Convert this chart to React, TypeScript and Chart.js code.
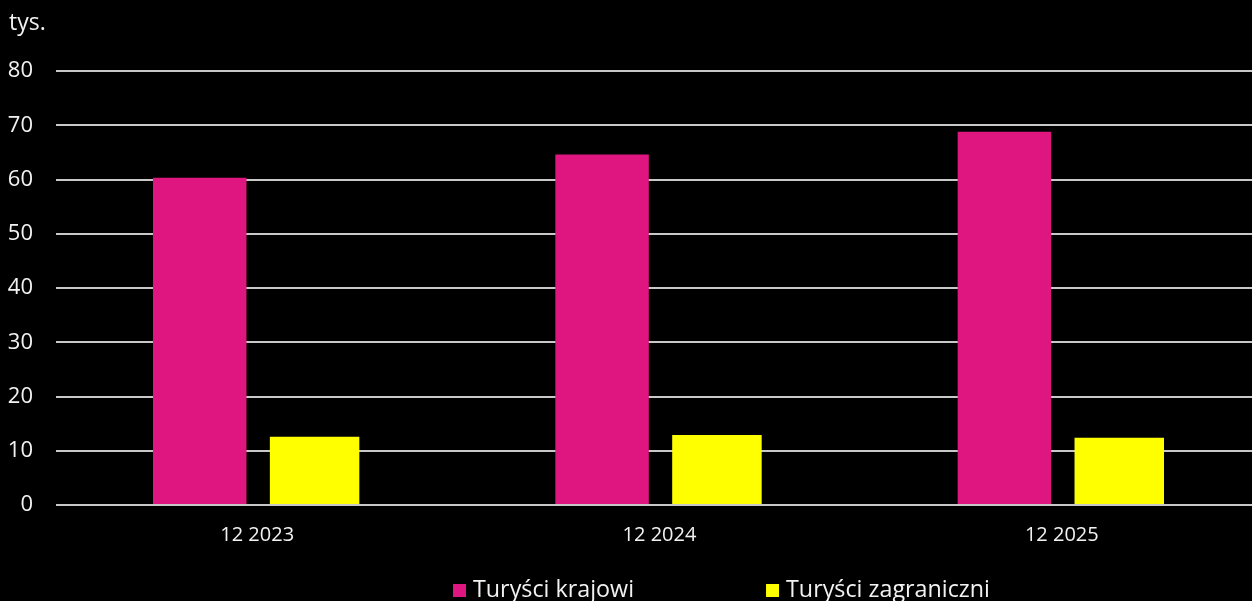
import React, { useEffect, useRef } from "react";
import { Chart, registerables } from "chart.js";

Chart.register(...registerables);

const categories = ["12 2023", "12 2024", "12 2025"];
const domesticValues = [60.3, 64.6, 68.8];
const foreignValues = [12.6, 12.9, 12.4];
const seriesLabels = ["Turyści krajowi", "Turyści zagraniczni"];
const unitLabel = "tys.";

const FONT = "'Open Sans', 'Noto Sans', sans-serif";
const PINK = "#DF1580";
const YELLOW = "#FFFF00";
const TEXT = "#f2f2f2";

const bgPlugin = {
  id: "bg",
  beforeDraw(chart: any) {
    const { ctx, width, height } = chart;
    ctx.save();
    ctx.fillStyle = "#000";
    ctx.fillRect(0, 0, width, height);
    ctx.restore();
  },
};

const extrasPlugin = {
  id: "extras",
  afterDraw(chart: any) {
    const { ctx } = chart;
    ctx.save();
    // unit label
    ctx.fillStyle = TEXT;
    ctx.font = `23px ${FONT}`;
    ctx.textBaseline = "middle";
    ctx.textAlign = "left";
    ctx.fillText(unitLabel, 9, 23);
    // legend
    ctx.font = `23.3px ${FONT}`;
    let x = 453;
    const cy = 590;
    chart.data.datasets.forEach((ds: any) => {
      ctx.fillStyle = ds.backgroundColor;
      ctx.fillRect(x, cy - 6, 13, 13);
      ctx.fillStyle = TEXT;
      ctx.fillText(ds.label, x + 20, cy);
      x += 20 + ctx.measureText(ds.label).width + 132;
    });
    ctx.restore();
  },
};

export default function App() {
  const ref = useRef<HTMLCanvasElement>(null);
  useEffect(() => {
    if (!ref.current) return;
    const chart = new Chart(ref.current, {
      type: "bar",
      data: {
        labels: categories,
        datasets: [
          {
            label: seriesLabels[0],
            data: domesticValues,
            backgroundColor: PINK,
            barPercentage: 0.814,
            categoryPercentage: 0.571,
          },
          {
            label: seriesLabels[1],
            data: foreignValues,
            backgroundColor: YELLOW,
            barPercentage: 0.779,
            categoryPercentage: 0.571,
          },
        ],
      },
      options: {
        animation: false,
        responsive: true,
        maintainAspectRatio: false,
        layout: { padding: { top: 71, bottom: 0, left: 0, right: 0 } },
        plugins: {
          legend: { display: false },
          tooltip: { enabled: false },
          title: { display: false },
        },
        scales: {
          x: {
            grid: { display: false, drawTicks: false },
            border: { display: false },
            ticks: { color: TEXT, font: { family: FONT, size: 20 }, padding: 18 },
            afterFit: (s: any) => {
              s.height = 96;
            },
          },
          y: {
            min: 0,
            max: 80,
            ticks: { stepSize: 10, color: TEXT, font: { family: FONT, size: 22 }, padding: 23 },
            grid: { color: "#c8c8c8", lineWidth: 2, drawTicks: false },
            border: { display: false },
            afterFit: (s: any) => {
              s.width = 56;
            },
          },
        },
      },
      plugins: [bgPlugin, extrasPlugin],
    });
    return () => chart.destroy();
  }, []);
  return (
    <div style={{ position: "fixed", left: 0, top: 0, width: 1252, height: 601, overflow: "hidden", background: "#000" }}>
      <div style={{ position: "relative", width: 1263, height: 601 }}>
        <canvas ref={ref} />
      </div>
    </div>
  );
}
